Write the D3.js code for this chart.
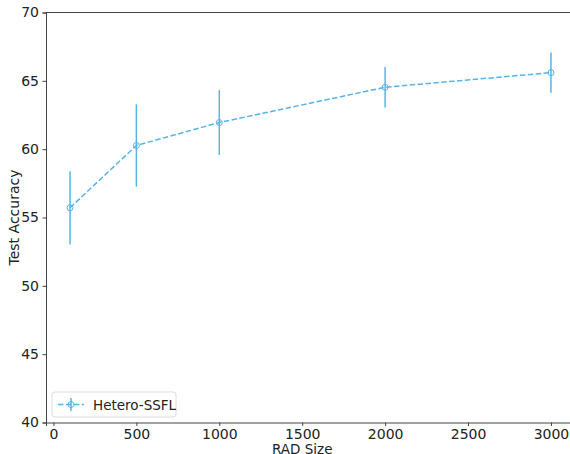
<!DOCTYPE html>
<html>
<head>
<meta charset="utf-8">
<script src="https://cdn.jsdelivr.net/npm/d3@7"></script>
<style>
  body { margin: 0; background: #fff; }
  svg { display: block; font-family: "DejaVu Sans", sans-serif; }
</style>
</head>
<body>
<div id="chart"></div>
<script>
// Datos
const radSizes = [100, 500, 1000, 2000, 3000];
const accuracy = [55.71, 60.27, 61.95, 64.53, 65.60];
const errors = [2.68, 3.01, 2.37, 1.48, 1.48];
const yTicks = [40, 45, 50, 55, 60, 65, 70];
const xTicks = [0, 500, 1000, 1500, 2000, 2500, 3000];
const seriesName = 'Hetero-SSFL';

const color = '#56B4E9';
const W = 570, H = 454;
const margin = {top: 12.5, right: -5, bottom: 31.5, left: 46};
const width = W - margin.left - margin.right;
const height = H - margin.top - margin.bottom;

const svg = d3.select('#chart').append('svg')
    .attr('width', W).attr('height', H);
const g = svg.append('g')
    .attr('transform', `translate(${margin.left},${margin.top})`);

const x = d3.scaleLinear().domain([-45, 3145]).range([0, width]);
const y = d3.scaleLinear().domain([40, 70]).range([height, 0]);

// Ejes
const xAxis = g.append('g')
    .attr('transform', `translate(0,${height})`)
    .call(d3.axisBottom(x).tickValues(xTicks).tickFormat(d3.format('d'))
        .tickSize(3.5).tickPadding(3));
const yAxis = g.append('g')
    .call(d3.axisLeft(y).tickValues(yTicks).tickFormat(d3.format('d'))
        .tickSize(3.5).tickPadding(3.5));
[xAxis, yAxis].forEach(a => {
    a.selectAll('text').attr('font-size', '14px').attr('fill', '#222')
        .attr('font-family', '"DejaVu Sans", sans-serif');
    a.selectAll('line').attr('stroke', '#444');
    a.select('.domain').attr('stroke', '#444');
});
// Borde superior
g.append('line')
    .attr('x1', 0).attr('x2', width).attr('y1', 0).attr('y2', 0)
    .attr('stroke', '#444');

// Etiquetas de ejes
svg.append('text')
    .attr('x', margin.left + x(1500)).attr('y', 454)
    .attr('text-anchor', 'middle').attr('font-size', '13.5px').attr('fill', '#222')
    .text('RAD Size');
svg.append('text')
    .attr('transform', `translate(19,${margin.top + height / 2}) rotate(-90)`)
    .attr('text-anchor', 'middle').attr('font-size', '14px').attr('fill', '#222')
    .text('Test Accuracy');

const data = radSizes.map((r, i) => ({x: r, y: accuracy[i], e: errors[i]}));

// Barras de error
g.selectAll('.err').data(data).enter().append('line')
    .attr('class', 'err')
    .attr('x1', d => x(d.x)).attr('x2', d => x(d.x))
    .attr('y1', d => y(d.y - d.e)).attr('y2', d => y(d.y + d.e))
    .attr('stroke', color).attr('stroke-width', 1.5);

// Línea discontinua
g.append('path').datum(data)
    .attr('fill', 'none').attr('stroke', color).attr('stroke-width', 1.5)
    .attr('stroke-dasharray', '5.5,2.4')
    .attr('d', d3.line().x(d => x(d.x)).y(d => y(d.y)));

// Marcadores
g.selectAll('.pt').data(data).enter().append('circle')
    .attr('class', 'pt')
    .attr('cx', d => x(d.x)).attr('cy', d => y(d.y)).attr('r', 3)
    .attr('fill', 'none').attr('stroke', color).attr('stroke-width', 1);

// Leyenda
const legend = svg.append('g').attr('transform', 'translate(52,392)');
legend.append('rect')
    .attr('width', 124).attr('height', 25).attr('rx', 3)
    .attr('fill', '#fff').attr('stroke', '#ddd');
legend.append('line')
    .attr('x1', 6).attr('x2', 32).attr('y1', 12.5).attr('y2', 12.5)
    .attr('stroke', color).attr('stroke-width', 1.5).attr('stroke-dasharray', '5.5,2.4');
legend.append('line')
    .attr('x1', 19).attr('x2', 19).attr('y1', 6).attr('y2', 19)
    .attr('stroke', color).attr('stroke-width', 1.5);
legend.append('circle')
    .attr('cx', 19).attr('cy', 12.5).attr('r', 3)
    .attr('fill', 'none').attr('stroke', color).attr('stroke-width', 1);
legend.append('text')
    .attr('x', 41).attr('y', 17.5).attr('font-size', '13.5px').attr('fill', '#222')
    .text(seriesName);
</script>
</body>
</html>
